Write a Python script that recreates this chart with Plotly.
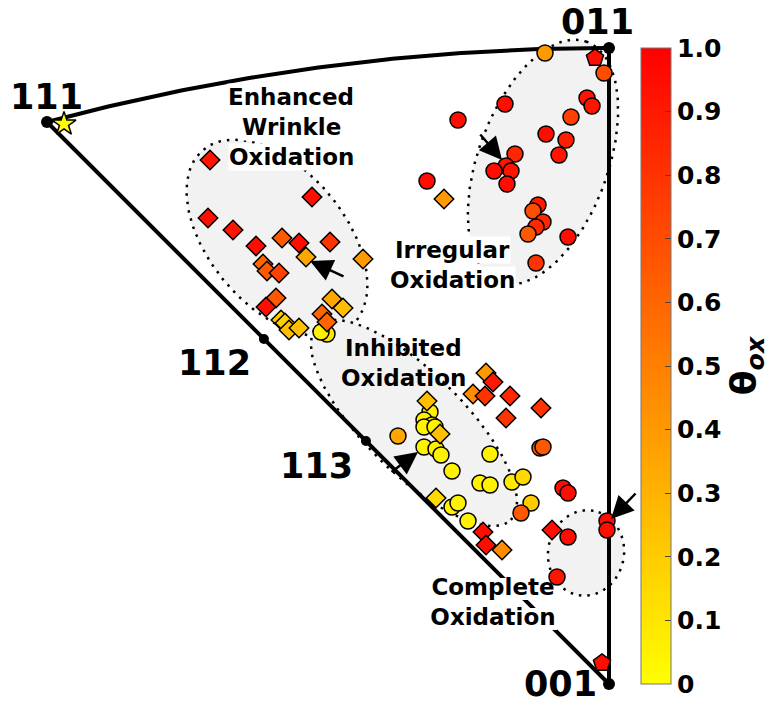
import numpy as np
import plotly.graph_objects as go

# ---------------- data (IPF plane coordinates, origin at [001], v up) ----------------
# circles
circ_u = [-64, -5, -22, -17, -38, -104, -151, -63, -43, -50, -94, -103, -115, -98, -102, -182,
          -71, -76, -66, -73, -81, -41, -73,
          -282, -288,
          -179, -185, -177, -185, -174, -211, -185, -173, -168, -119, -157, -129, -119, -97, -86,
          -78, -88, -157, -151, -141, -69, -66, -46, -41, -41, -52, -2, -2]
circ_v = [631, 611, 586, 578, 567, 580, 564, 550, 544, 529, 530, 518, 513, 513, 500, 503,
          479, 473, 462, 457, 450, 447, 421,
          350, 352,
          272, 264, 259, 257, 257, 248, 237, 235, 229, 230, 213, 201, 199, 202, 207,
          181, 171, 177, 181, 163, 236, 237, 196, 191, 147, 107, 163, 154]
circ_theta = [0.4, 0.7, 0.92, 0.92, 0.75, 0.95, 0.95, 0.95, 0.88, 0.92, 0.85, 0.92, 0.95, 0.92, 0.95, 0.95,
              0.9, 0.7, 0.85, 0.85, 0.65, 0.95, 0.8,
              0.1, 0.05,
              0.05, 0.05, 0.08, 0.05, 0.05, 0.35, 0.05, 0.05, 0.05, 0.05, 0.05, 0.05, 0.05, 0.08, 0.15,
              0.2, 0.65, 0.05, 0.05, 0.05, 0.65, 0.65, 0.95, 0.95, 0.95, 0.92, 0.95, 0.95]

# diamonds
diam_u = [-399, -297, -401, -376, -353, -327, -310, -279, -303, -246, -346, -342, -330, -333, -343,
          -277, -266, -287, -282, -328, -324, -320, -310, -165,
          -123, -116, -136, -124, -99, -68, -103, -182, -169, -173, -126, -123, -107, -57]
diam_v = [524, 487, 466, 454, 438, 446, 441, 442, 427, 425, 420, 413, 411, 386, 377,
          385, 376, 370, 362, 364, 361, 354, 356, 485,
          311, 302, 290, 288, 288, 276, 266, 283, 250, 186, 152, 139, 134, 154]
diam_theta = [0.92, 0.95, 0.95, 0.92, 0.95, 0.65, 0.95, 0.8, 0.35, 0.4, 0.6, 0.65, 0.75, 0.65, 0.95,
              0.35, 0.25, 0.6, 0.6, 0.2, 0.2, 0.25, 0.25, 0.4,
              0.4, 0.9, 0.45, 0.8, 0.85, 0.8, 0.8, 0.25, 0.25, 0.15, 0.95, 0.95, 0.45, 0.95]

# pentagons
pent_u = [-14, -7]
pent_v = [626, 21]
pent_theta = [0.95, 0.95]

# star
star_u = [-545]
star_v = [560]
star_theta = [0.0]

cbar_ticks = [0, 0.1, 0.2, 0.3, 0.4, 0.5, 0.6, 0.7, 0.8, 0.9, 1.0]
cbar_labels = ["0", "0.1", "0.2", "0.3", "0.4", "0.5", "0.6", "0.7", "0.8", "0.9", "1.0"]

# ---------------- projection helpers ----------------
R = 636 / np.tan(np.pi / 8)


def proj(h, k, l):
    d = np.array([h, k, l], float)
    d /= np.linalg.norm(d)
    return -R * d[0] / (1 + d[2]), R * d[1] / (1 + d[2])


def ellipse(cx, cy, a, b, ang):
    t = np.linspace(0, 2 * np.pi, 200)
    c, s = np.cos(np.radians(ang)), np.sin(np.radians(ang))
    x = a * np.cos(t)
    y = b * np.sin(t)
    return cx + x * c - y * s, cy + x * s + y * c


FONT = "DejaVu Sans"
PAGE_OFF = 8  # default body margin of the html page
fig = go.Figure()

# region ellipses
regions = [(-332, 446, 115, 68, -50), (-66, 522, 128, 65, 70),
           (-195, 261, 137, 50, -45), (-23, 131, 43, 38, 80)]
for cx, cy, a, b, ang in regions:
    ex, ey = ellipse(cx, cy, a, b, ang)
    fig.add_trace(go.Scatter(x=ex, y=ey, mode="lines", fill="toself",
                             fillcolor="rgb(242,242,242)",
                             line=dict(color="black", width=2.5, dash="2.5px,6px"),
                             hoverinfo="skip", showlegend=False))

# triangle boundary
a3 = np.array([0, 1, 1]) / np.sqrt(2)
b3 = np.array([1, 1, 1]) / np.sqrt(3)
arc_u, arc_v = [], []
for t in np.linspace(0, 1, 100):
    d = (1 - t) * a3 + t * b3
    u, v = proj(*d)
    arc_u.append(u)
    arc_v.append(v)
p001 = proj(0, 0, 1)
p011 = proj(0, 1, 1)
p111 = proj(1, 1, 1)
p112 = proj(1, 1, 2)
p113 = proj(1, 1, 3)
bx = [p001[0], p011[0]] + arc_u + [p111[0], p001[0]]
by = [p001[1], p011[1]] + arc_v + [p111[1], p001[1]]
fig.add_trace(go.Scatter(x=bx, y=by, mode="lines", line=dict(color="black", width=4),
                         hoverinfo="skip", showlegend=False))
fig.add_trace(go.Scatter(x=[p001[0], p011[0], p111[0]], y=[p001[1], p011[1], p111[1]],
                         mode="markers", marker=dict(color="black", size=12),
                         hoverinfo="skip", showlegend=False))
fig.add_trace(go.Scatter(x=[p112[0], p113[0]], y=[p112[1], p113[1]],
                         mode="markers", marker=dict(color="black", size=10),
                         hoverinfo="skip", showlegend=False))

# "Complete Oxidation" label drawn below the markers (white boxes hide the edge line)
comp_lines = ["Complete", "Oxidation"]
comp_x, comp_y = -116, 95
for i, ln in enumerate(comp_lines):
    yc = comp_y - 30 * i
    fig.add_trace(go.Scatter(x=[comp_x - 64, comp_x + 64, comp_x + 64, comp_x - 64, comp_x - 64],
                             y=[yc - 11, yc - 11, yc + 11, yc + 11, yc - 11],
                             mode="lines", fill="toself", fillcolor="white",
                             line=dict(width=0, color="white"), hoverinfo="skip",
                             showlegend=False))
fig.add_trace(go.Scatter(x=[comp_x] * len(comp_lines), y=[comp_y - 30 * i for i in range(len(comp_lines))],
                         mode="text", text=["<b>%s</b>" % s for s in comp_lines],
                         textposition="middle center",
                         textfont=dict(family=FONT, size=23, color="black"),
                         hoverinfo="skip", showlegend=False))

mline = dict(color="black", width=1.5)
fig.add_trace(go.Scatter(x=circ_u, y=circ_v, mode="markers",
                         marker=dict(symbol="circle", size=16, color=circ_theta,
                                     coloraxis="coloraxis", line=mline), showlegend=False))
fig.add_trace(go.Scatter(x=diam_u, y=diam_v, mode="markers",
                         marker=dict(symbol="diamond", size=15, color=diam_theta,
                                     coloraxis="coloraxis", line=mline), showlegend=False))
fig.add_trace(go.Scatter(x=pent_u, y=pent_v, mode="markers",
                         marker=dict(symbol="pentagon", size=18, color=pent_theta,
                                     coloraxis="coloraxis", line=mline), showlegend=False))
fig.add_trace(go.Scatter(x=star_u, y=star_v, mode="markers",
                         marker=dict(symbol="star", size=18, color=star_theta,
                                     coloraxis="coloraxis", line=mline), showlegend=False))

annotations = []
# vertex labels
for txt, p, xs, ys in [("111", p111, 0, 25), ("011", p011, -12, 26), ("112", p112, -49, -24),
                       ("113", p113, -49, -25), ("001", p001, -49, 0)]:
    annotations.append(dict(x=p[0], y=p[1], text="<b>%s</b>" % txt, showarrow=False,
                            xshift=xs, yshift=ys, borderpad=0,
                            font=dict(family=FONT, size=35, color="black")))

# region labels (one annotation per line)
labels = [(["Enhanced", "Wrinkle", "Oxidation"], -318, 587, True),
          (["Irregular", "Oxidation"], -157, 434, True),
          (["Inhibited", "Oxidation"], -206, 336, False)]
for lines, x0, y0, bg in labels:
    for i, ln in enumerate(lines):
        annotations.append(dict(x=x0, y=y0 - 30 * i, text="<b>%s</b>" % ln, showarrow=False,
                                bgcolor="white" if bg else "rgba(0,0,0,0)", borderpad=0,
                                font=dict(family=FONT, size=23, color="black")))

# arrows
for hx, hy, tx, ty in [(-299, 423, -264, 407), (-107, 524, -130, 551),
                       (-191, 232, -219, 211), (2, 165, 28, 192)]:
    annotations.append(dict(x=hx, y=hy, ax=tx, ay=ty, axref="x", ayref="y", xref="x", yref="y",
                            text="", showarrow=True, arrowhead=2, arrowsize=1.8,
                            arrowwidth=2.5, arrowcolor="black", standoff=0))

fig.update_layout(
    width=780, height=704,
    margin=dict(l=0, r=0, t=0, b=0),
    paper_bgcolor="white", plot_bgcolor="white",
    xaxis=dict(range=[-609 + PAGE_OFF, 171 + PAGE_OFF], visible=False, fixedrange=True),
    yaxis=dict(range=[-20 - PAGE_OFF, 684 - PAGE_OFF], visible=False, fixedrange=True),
    annotations=annotations,
    coloraxis=dict(
        cmin=0, cmax=1,
        colorscale=[[0, "rgb(255,255,0)"], [1, "rgb(255,0,0)"]],
        colorbar=dict(
            x=(641 - PAGE_OFF) / 780, xanchor="left", xpad=0, ypad=0,
            y=1 - (366 - PAGE_OFF) / 704, yanchor="middle",
            len=636, lenmode="pixels", thickness=30, thicknessmode="pixels",
            outlinewidth=1, outlinecolor="#777",
            tickvals=cbar_ticks, ticktext=cbar_labels,
            ticks="inside", ticklen=6, tickcolor="#444",
            tickfont=dict(family=FONT, size=25, color="black", weight="bold"),
            title=dict(text="<b>θ<sub><i>ox</i></sub></b>", side="right",
                       font=dict(family=FONT, size=36, color="black")),
        ),
    ),
)

fig.write_html("out.html")
